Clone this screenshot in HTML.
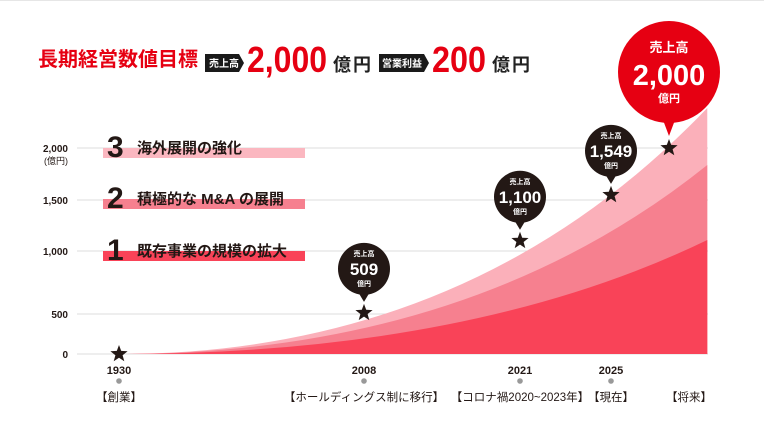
<!DOCTYPE html>
<html><head><meta charset="utf-8"><style>
body{margin:0;background:#fff;}
svg{display:block;font-family:"Liberation Sans","Noto Sans CJK JP",sans-serif;}
</style></head><body>
<svg id="c" width="764" height="430" viewBox="0 0 764 430">
<rect x="0" y="0" width="764" height="430" fill="#fff"/>
<line x1="0" y1="0.5" x2="764" y2="0.5" stroke="#e6e6e6"/>
<g>
<text x="38" y="66" font-size="20" font-weight="bold" fill="#e60012">長期経営数値目標</text>
<path d="M205 54H239L244 63L239 72H205Z" fill="#1a1a1a"/>
<text x="209" y="67" font-size="10" font-weight="bold" fill="#fff">売上高</text>
<text x="247" y="72" font-size="36" font-weight="bold" fill="#e60012" textLength="80" lengthAdjust="spacingAndGlyphs">2,000</text>
<text x="333" y="71" font-size="18" font-weight="bold" fill="#222" letter-spacing="2">億円</text>
<path d="M379 54H424L429 63L424 72H379Z" fill="#1a1a1a"/>
<text x="382" y="67" font-size="10" font-weight="bold" fill="#fff">営業利益</text>
<text x="432" y="72" font-size="36" font-weight="bold" fill="#e60012" textLength="54" lengthAdjust="spacingAndGlyphs">200</text>
<text x="492" y="71" font-size="18" font-weight="bold" fill="#222" letter-spacing="2">億円</text>
</g>
<g id="grid"></g>
<g id="areas"></g>
<g>
<rect x="103" y="148" width="202" height="10" fill="#fbb7c0"/>
<text x="107" y="157" font-size="30" font-weight="bold" fill="#231815">3</text>
<text x="137" y="153" font-size="15" font-weight="bold" fill="#231815">海外展開の強化</text>
<rect x="103" y="199" width="202" height="10" fill="#f6808f"/>
<text x="107" y="208" font-size="30" font-weight="bold" fill="#231815">2</text>
<text x="137" y="204" font-size="15" font-weight="bold" fill="#231815">積極的な M&amp;A の展開</text>
<rect x="103" y="251" width="202" height="10" fill="#f94358"/>
<text x="107" y="260" font-size="30" font-weight="bold" fill="#231815">1</text>
<text x="137" y="256" font-size="15" font-weight="bold" fill="#231815">既存事業の規模の拡大</text>
</g>
<g id="marks"></g>
</svg>
<script>
const years=[1930,2008,2021,2025,2030];
const yearLabels=["1930","2008","2021","2025",""];
const eventLabels=["【創業】","【ホールディングス制に移行】","【コロナ禍2020~2023年】","【現在】","【将来】"];
const sales=[0,509,1100,1549,2000];
const salesLabels=["","509","1,100","1,549","2,000"];
const yTicks=[0,500,1000,1500,2000];
const yTickLabels=["0","500","1,000","1,500","2,000"];
const layerEnds=[2385,1837,1108];
const NS="http://www.w3.org/2000/svg";
const tickPx=[354,314,251,200,148];
const yearPx=[119,364,520,611,669];
const endYear=2033.3;
function interp(v,dom,rng){
  let i=0; while(i<dom.length-2&&v>dom[i+1])i++;
  return rng[i]+(v-dom[i])*(rng[i+1]-rng[i])/(dom[i+1]-dom[i]);
}
const y=v=>interp(v,yTicks,tickPx);
const x=v=>interp(v,years,yearPx);
function el(tag,attrs,parent,text){const e=document.createElementNS(NS,tag);for(const k in attrs)e.setAttribute(k,attrs[k]);if(text!==undefined)e.textContent=text;parent.appendChild(e);return e;}
const grid=document.getElementById('grid'),areas=document.getElementById('areas'),marks=document.getElementById('marks');
yTicks.forEach((t,i)=>{
  const l=el('line',{x1:77,x2:708,y1:y(t),y2:y(t),stroke:'#dcdcdc','stroke-width':1},grid);
  
  
  const tx=el('text',{x:68,y:y(t)+4,'font-size':10,'font-weight':'bold','text-anchor':'end',fill:'#231815'},grid,yTickLabels[i]);
  
  
});
const u=el('text',{x:68,y:y(2000)+16,'font-size':9,'text-anchor':'end',fill:'#231815'},grid,'(億円)');


const colors=['#fbb0ba','#f6808f','#f94358'];
const x0=x(years[0]),x1=x(endYear),y0=y(0);
const cx=x0+(x1-x0)*0.6;
layerEnds.forEach((v,i)=>{
  const ye=y(v);
  const p=el('path',{d:`M${x0} ${y0} Q${cx} ${y0} ${x1} ${ye} L${x1} ${y0} Z`,fill:colors[i]},areas);
  
  
});
function star(cx,cy,r){let d='';for(let k=0;k<10;k++){const rr=k%2?r*0.42:r;const a=-Math.PI/2+k*Math.PI/5;d+=(k?'L':'M')+(cx+rr*Math.cos(a)).toFixed(1)+' '+(cy+rr*Math.sin(a)).toFixed(1);}return d+'Z';}
years.forEach((yr,i)=>{
  const px=x(yr),py=y(sales[i]);
  const s=el('path',{d:star(px,py,9),fill:'#231815'},marks);
  
  
  if(yearLabels[i]){
    const t=el('text',{x:px,y:374,'font-size':11,'font-weight':'bold','text-anchor':'middle',fill:'#231815'},marks,yearLabels[i]);
    
    
    const d=el('circle',{cx:px,cy:381,r:2.8,fill:'#999'},marks);
    
    
  }
  const ev=el('text',{x:px+(i==4?20:0),y:401,'font-size':11.5,'text-anchor':'middle',fill:'#231815'},marks,eventLabels[i]);
  
  
  if(salesLabels[i]){
    const big=i==years.length-1;
    const r=big?51:26, bc=big?'#e60012':'#231815';
    const by=py-(big?76:44);
    const g=el('g',{},marks);
    
    
    el('circle',{cx:px,cy:by,r:r,fill:bc},g);
    el('path',{d:`M${px-6} ${by+r-3}L${px} ${py-(big?12:11)}L${px+6} ${by+r-3}Z`,fill:bc},g);
    el('text',{x:px,y:by-(big?20:13),'font-size':big?13:7,'font-weight':'bold','text-anchor':'middle',fill:'#fff'},g,'売上高');
    el('text',{x:px,y:by+(big?13:6),'font-size':big?29:17,'font-weight':'bold','text-anchor':'middle',fill:'#fff'},g,salesLabels[i]);
    el('text',{x:px,y:by+(big?30:17),'font-size':big?11:7,'font-weight':'bold','text-anchor':'middle',fill:'#fff'},g,'億円');
  }
});
</script>
</body></html>
